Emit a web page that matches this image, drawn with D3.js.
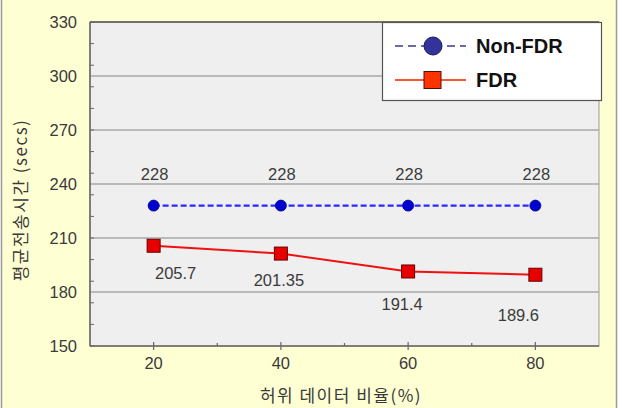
<!DOCTYPE html>
<html>
<head>
<meta charset="utf-8">
<script src="https://cdn.jsdelivr.net/npm/d3@7"></script>
<style>
  html, body { margin: 0; padding: 0; background: #fff; }
  svg { display: block; }
</style>
</head>
<body>
<svg id="chart" width="623" height="408"></svg>
<script>
// data
const ratios = [20, 40, 60, 80];
const nonFdr = [228, 228, 228, 228];
const fdr = [205.7, 201.35, 191.4, 189.6];
const fdrLabels = ['205.7', '201.35', '191.4', '189.6'];
const yTicks = [150, 180, 210, 240, 270, 300, 330];
const xTicks = [20, 40, 60, 80];
const seriesNames = ['Non-FDR', 'FDR'];

const W = 623, H = 408;
const m = { left: 90, right: 599, top: 22, bottom: 346 };
const svg = d3.select('#chart');
const numFont = '"Liberation Sans", Arial, sans-serif';
const korFont = '"Noto Sans CJK KR", sans-serif';
const textCol = '#3a3a3a';

// background + outer frame
svg.append('rect').attr('x', 1.5).attr('y', -2).attr('width', 615).attr('height', H + 4)
  .attr('fill', '#ffffd4').attr('stroke', '#9a9a9a').attr('stroke-width', 1.5);

const x = d3.scaleLinear().domain([10, 90]).range([m.left, m.right]);
const y = d3.scaleLinear().domain([150, 330]).range([m.bottom, m.top]);

// plot area
svg.append('rect').attr('x', m.left).attr('y', m.top)
  .attr('width', m.right - m.left).attr('height', m.bottom - m.top)
  .attr('fill', '#efefef').attr('stroke', '#999').attr('stroke-width', 1);

// grid lines
svg.append('g').selectAll('line').data(yTicks.slice(1, -1)).join('line')
  .attr('x1', m.left).attr('x2', m.right)
  .attr('y1', d => y(d)).attr('y2', d => y(d))
  .attr('stroke', '#a8a8a8').attr('stroke-width', 1.5);

// frame lines
svg.append('line').attr('x1', m.left).attr('x2', m.right).attr('y1', m.top).attr('y2', m.top)
  .attr('stroke', '#555').attr('stroke-width', 1.5);
svg.append('line').attr('x1', m.left).attr('x2', m.left).attr('y1', m.top).attr('y2', m.bottom)
  .attr('stroke', '#666').attr('stroke-width', 1.5);
svg.append('line').attr('x1', m.left).attr('x2', m.right).attr('y1', m.bottom).attr('y2', m.bottom)
  .attr('stroke', '#666').attr('stroke-width', 1.5);

// minor y ticks (inside the frame)
svg.append('g').selectAll('line').data(d3.range(150, 331, 12)).join('line')
  .attr('x1', m.left).attr('x2', m.left + 4)
  .attr('y1', d => y(d)).attr('y2', d => y(d))
  .attr('stroke', '#666').attr('stroke-width', 1);

// x ticks
svg.append('g').selectAll('line').data(d3.range(20, 81, 10)).join('line')
  .attr('x1', d => x(d)).attr('x2', d => x(d))
  .attr('y1', d => xTicks.includes(d) ? m.bottom - 4 : m.bottom - 3)
  .attr('y2', d => xTicks.includes(d) ? m.bottom + 4 : m.bottom)
  .attr('stroke', '#666').attr('stroke-width', 1.2);

// tick labels
svg.append('g').selectAll('text').data(yTicks).join('text')
  .attr('x', 77).attr('y', d => y(d)).attr('dy', '0.35em')
  .attr('text-anchor', 'end').attr('font-family', numFont).attr('font-size', 16.5)
  .attr('fill', textCol).text(d => d);
svg.append('g').selectAll('text').data(xTicks).join('text')
  .attr('x', d => x(d)).attr('y', 369)
  .attr('text-anchor', 'middle').attr('font-family', numFont).attr('font-size', 16.5)
  .attr('fill', textCol).text(d => d);

// axis titles
svg.append('text').attr('x', 341).attr('y', 402).attr('text-anchor', 'middle')
  .attr('font-family', korFont).attr('font-size', 17).attr('letter-spacing', 1.5)
  .attr('fill', textCol).text('허위 데이터 비율(%)');
svg.append('text').attr('transform', 'translate(27,200) rotate(-90)').attr('text-anchor', 'middle')
  .attr('font-family', korFont).attr('font-size', 17).attr('letter-spacing', 1.5)
  .attr('fill', textCol).text('평균전송시간 (secs)');

// Non-FDR series
const line = d3.line().x((d, i) => x(ratios[i])).y(d => y(d));
svg.append('path').attr('d', line(nonFdr)).attr('fill', 'none')
  .attr('stroke', '#2a2aff').attr('stroke-width', 2.2).attr('stroke-dasharray', '6,3');
svg.append('g').selectAll('circle').data(nonFdr).join('circle')
  .attr('cx', (d, i) => x(ratios[i])).attr('cy', d => y(d)).attr('r', 5.5)
  .attr('fill', '#0000d0').attr('stroke', '#000080').attr('stroke-width', 0.8);
svg.append('g').selectAll('text').data(nonFdr).join('text')
  .attr('x', (d, i) => x(ratios[i]) + 1).attr('y', d => y(d) - 26)
  .attr('text-anchor', 'middle').attr('font-family', numFont).attr('font-size', 16.5)
  .attr('fill', textCol).text(d => d);

// FDR series
svg.append('path').attr('d', line(fdr)).attr('fill', 'none')
  .attr('stroke', '#f01010').attr('stroke-width', 2);
svg.append('g').selectAll('rect').data(fdr).join('rect')
  .attr('x', (d, i) => x(ratios[i]) - 6.5).attr('y', d => y(d) - 6.5)
  .attr('width', 13).attr('height', 13)
  .attr('fill', '#e80000').attr('stroke', '#600').attr('stroke-width', 1);
const labelDx = [22, -2, -6, -17];
const labelDy = [33, 32, 39, 46];
svg.append('g').selectAll('text').data(fdr).join('text')
  .attr('x', (d, i) => x(ratios[i]) + labelDx[i]).attr('y', (d, i) => y(d) + labelDy[i])
  .attr('text-anchor', 'middle').attr('font-family', numFont).attr('font-size', 16.5)
  .attr('fill', textCol).text((d, i) => fdrLabels[i]);

// legend
const lg = svg.append('g');
lg.append('rect').attr('x', 382.5).attr('y', 22.5).attr('width', 219).attr('height', 78)
  .attr('fill', '#fff').attr('stroke', '#555').attr('stroke-width', 1.2);
lg.append('line').attr('x1', 395).attr('x2', 466).attr('y1', 46).attr('y2', 46)
  .attr('stroke', '#6a6aa8').attr('stroke-width', 2).attr('stroke-dasharray', '8,5');
lg.append('circle').attr('cx', 433).attr('cy', 46).attr('r', 9)
  .attr('fill', '#333399').attr('stroke', '#1a1a60').attr('stroke-width', 1);
lg.append('line').attr('x1', 395).attr('x2', 466).attr('y1', 80).attr('y2', 80)
  .attr('stroke', '#ff5533').attr('stroke-width', 2);
lg.append('rect').attr('x', 424).attr('y', 71.5).attr('width', 17).attr('height', 17)
  .attr('fill', '#ff3300').attr('stroke', '#551100').attr('stroke-width', 1);
lg.selectAll('text').data(seriesNames).join('text')
  .attr('x', 476).attr('y', (d, i) => 46 + i * 34).attr('dy', '0.35em')
  .attr('font-family', numFont).attr('font-weight', 'bold').attr('font-size', 20)
  .attr('fill', '#111').text(d => d);
</script>
</body>
</html>
